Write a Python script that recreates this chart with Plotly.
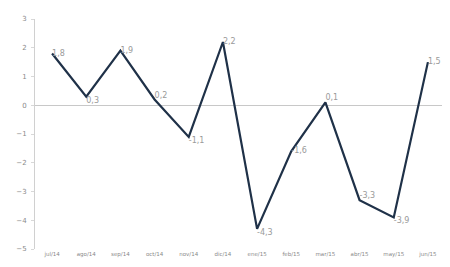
import plotly.graph_objects as go

months = ["jul/14", "ago/14", "sep/14", "oct/14", "nov/14", "dic/14",
          "ene/15", "feb/15", "mar/15", "abr/15", "may/15", "jun/15"]
values = [1.8, 0.3, 1.9, 0.2, -1.1, 2.2, -4.3, -1.6, 0.1, -3.3, -3.9, 1.5]
labels = ["1,8", "0,3", "1,9", "0,2", "-1,1", "2,2", "-4,3", "-1,6", "0,1", "-3,3", "-3,9", "1,5"]
positions = ["middle right", "bottom right", "middle right", "top right", "bottom right",
             "middle right", "bottom right", "middle right", "top right", "top right",
             "bottom right", "middle right"]
y_ticks = [3, 2, 1, 0, -1, -2, -3, -4, -5]

fig = go.Figure()
fig.add_trace(go.Scatter(
    x=months, y=values, mode="lines+text",
    line=dict(color="#1f3148", width=2.2),
    text=labels, textposition=positions,
    textfont=dict(family="DejaVu Sans", size=8, color="#9a9a9a"),
    cliponaxis=False,
))

fig.update_layout(
    width=442, height=259,
    margin=dict(l=27, r=5, t=11, b=18, autoexpand=False),
    paper_bgcolor="white", plot_bgcolor="white",
    showlegend=False,
    font=dict(family="DejaVu Sans", size=7, color="#8a8a8a"),
)
fig.update_xaxes(
    type="category", range=[-0.5, 11.5], automargin=False,
    showgrid=False, showline=False, zeroline=False,
    tickfont=dict(size=5.5, color="#8a8a8a"), ticks="",
)
fig.update_yaxes(
    range=[-5, 3], tickvals=y_ticks, automargin=False,
    showgrid=False, showline=True, linecolor="#d0d0d0", linewidth=1,
    ticks="outside", ticklen=3, tickcolor="#d8d8d8",
    ticklabelstandoff=3,
    zeroline=True, zerolinecolor="#c8c8c8", zerolinewidth=1,
    tickfont=dict(size=7, color="#8a8a8a"),
)

fig.write_html("out.html")
